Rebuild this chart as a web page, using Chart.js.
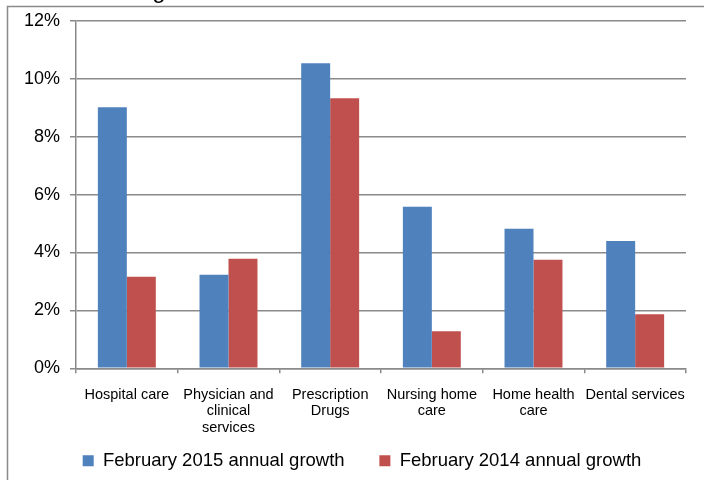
<!DOCTYPE html>
<html>
<head>
<meta charset="utf-8">
<script src="https://cdn.jsdelivr.net/npm/chart.js@4"></script>
<style>
  html, body { margin: 0; padding: 0; background: #fff; }
  #wrap { width: 704px; height: 480px; position: relative; }
</style>
</head>
<body>
<div id="wrap"><canvas id="chart"></canvas></div>
<script>
'use strict';

// Categories (multi-line labels as in the original)
let categories = [
  'Hospital care',
  ['Physician and', 'clinical', 'services'],
  ['Prescription', 'Drugs'],
  ['Nursing home', 'care'],
  ['Home health', 'care'],
  'Dental services'
];

let growth2015 = [9.02, 3.23, 10.54, 5.58, 4.82, 4.40];
let growth2014 = [3.16, 3.78, 9.33, 1.28, 3.75, 1.87];

let seriesNames = ['February 2015 annual growth', 'February 2014 annual growth'];

let yTicks = [0, 2, 4, 6, 8, 10, 12];

let FONT = '"Liberation Sans", Arial, sans-serif';
let GRID = '#8a8a8a';

// frame around the chart, the clipped title fragment, legend nudge
let framePlugin = {
  id: 'frame',
  afterLayout(chart) {
    let lg = chart.legend;
    if (lg) {
      lg.left += 19;
      lg.right += 19;
    }
    // let the category labels run past the axis box (they are clipped to it)
    chart.scales.x.bottom = chart.height;
  },
  afterDraw(chart) {
    let ctx = chart.ctx;
    ctx.save();
    ctx.strokeStyle = '#8a8a8a';
    ctx.lineWidth = 1.5;
    ctx.beginPath();
    ctx.moveTo(7.5, 480);
    ctx.lineTo(7.5, 6.5);
    ctx.lineTo(704, 6.5);
    ctx.stroke();
    ctx.fillStyle = '#000';
    ctx.font = '24px "Liberation Sans", Arial, sans-serif';
    ctx.textAlign = 'center';
    ctx.textBaseline = 'alphabetic';
    ctx.fillText('g', 159, -2);
    ctx.restore();
  }
};

let canvasElem = document.getElementById('chart');

function renderChart() {
  let data = {
    labels: categories,
    datasets: [{
      label: seriesNames[0],
      data: growth2015,
      backgroundColor: '#4f81bd',
      borderWidth: 0,
      categoryPercentage: 0.57,
      barPercentage: 1.0
    }, {
      label: seriesNames[1],
      data: growth2014,
      backgroundColor: '#c0504d',
      borderWidth: 0,
      categoryPercentage: 0.57,
      barPercentage: 1.0
    }]
  };

  let config = {
    type: 'bar',
    data: data,
    options: {
      responsive: true,
      maintainAspectRatio: false,
      animation: false,
      layout: { padding: { top: 21, right: 18, left: 0, bottom: 0 } },
      plugins: {
        tooltip: { enabled: false },
        legend: {
          position: 'bottom',
          labels: {
            font: { family: FONT, size: 18.5 },
            color: '#000',
            boxWidth: 11,
            boxHeight: 11,
            padding: 34.75,
            useBorderRadius: false
          }
        }
      },
      scales: {
        x: {
          grid: {
            offset: true,
            drawOnChartArea: false,
            drawTicks: true,
            tickLength: 5,
            color: GRID,
            lineWidth: 1.5
          },
          border: { color: GRID, width: 1.5 },
          ticks: {
            font: { family: FONT, size: 14.5, lineHeight: 1.14 },
            color: '#000',
            maxRotation: 0,
            autoSkip: false,
            padding: 13
          },
          afterFit(scale) { scale.height = 48.5; }
        },
        y: {
          min: 0,
          max: 12,
          afterBuildTicks(scale) {
            scale.ticks = yTicks.map(v => ({ value: v }));
          },
          grid: {
            color: GRID,
            lineWidth: 1.5,
            tickLength: 6
          },
          border: { color: GRID, width: 1.5 },
          ticks: {
            font: { family: FONT, size: 18 },
            color: '#000',
            padding: 10,
            callback: v => v + '%'
          },
          afterFit(scale) { scale.width = 76; }
        }
      }
    },
    plugins: [framePlugin]
  };

  new Chart(canvasElem, config);
}

renderChart();
</script>
</body>
</html>
